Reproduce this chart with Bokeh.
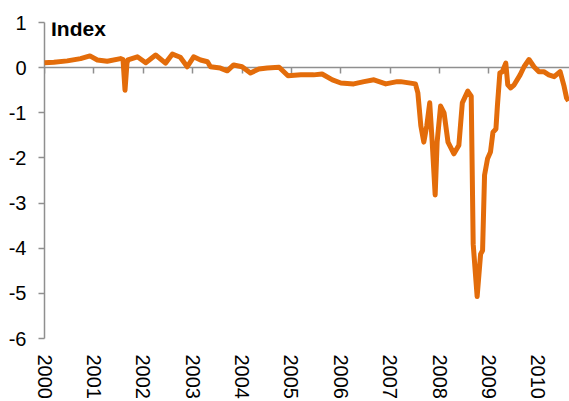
from bokeh.plotting import figure
from bokeh.models import Range1d, FixedTicker, LinearAxis, Label
from bokeh.embed import file_html
from bokeh.resources import INLINE

# Data (decimal years, index values)
years = [2000.00, 2000.19, 2000.46, 2000.73, 2000.92, 2001.07, 2001.27, 2001.54,
         2001.59, 2001.63, 2001.67, 2001.69, 2001.88, 2002.05, 2002.25, 2002.45,
         2002.59, 2002.75, 2002.89, 2003.02, 2003.16, 2003.30, 2003.36, 2003.56,
         2003.70, 2003.83, 2004.00, 2004.17, 2004.34, 2004.51, 2004.75, 2004.93,
         2005.19, 2005.45, 2005.62, 2005.83, 2006.00, 2006.26, 2006.47, 2006.67,
         2006.91, 2007.14, 2007.21, 2007.51, 2007.56, 2007.62, 2007.68, 2007.74,
         2007.80, 2007.85, 2007.91, 2007.95, 2008.02, 2008.09, 2008.17, 2008.29,
         2008.39, 2008.46, 2008.57, 2008.64, 2008.68, 2008.76, 2008.83, 2008.87,
         2008.91, 2008.97, 2009.03, 2009.08, 2009.14, 2009.17, 2009.22, 2009.27,
         2009.34, 2009.38, 2009.44, 2009.51, 2009.63, 2009.71, 2009.81, 2009.91,
         2010.01, 2010.11, 2010.21, 2010.32, 2010.44, 2010.52, 2010.57, 2010.61]
values = [0.11, 0.12, 0.15, 0.20, 0.26, 0.17, 0.14, 0.20,
          0.18, -0.50, 0.10, 0.17, 0.24, 0.11, 0.28, 0.10,
          0.30, 0.23, 0.02, 0.24, 0.17, 0.13, 0.02, -0.01,
          -0.07, 0.06, 0.02, -0.12, -0.03, -0.01, 0.01, -0.18,
          -0.16, -0.16, -0.14, -0.27, -0.34, -0.36, -0.31, -0.27,
          -0.36, -0.31, -0.31, -0.36, -0.56, -1.29, -1.65, -1.29,
          -0.78, -1.65, -2.82, -1.65, -0.85, -1.00, -1.65, -1.91,
          -1.72, -0.78, -0.52, -0.63, -3.91, -5.07, -4.13, -4.05,
          -2.38, -2.02, -1.87, -1.43, -1.36, -0.85, -0.12, -0.09,
          0.10, -0.38, -0.45, -0.38, -0.16, 0.02, 0.18, 0.02,
          -0.09, -0.09, -0.16, -0.20, -0.09, -0.41, -0.67, -0.74]

year_ticks = list(range(2000, 2011))
y_ticks = [-6, -5, -4, -3, -2, -1, 0, 1]
title_text = "Index"

FONT = "Liberation Sans"
GREY = "#8f8f8f"

p = figure(width=569, height=401, output_backend="svg", toolbar_location=None,
           x_range=Range1d(2000, 2010.63), y_range=Range1d(-6, 1),
           min_border_left=44, min_border_top=22, min_border_bottom=58,
           min_border_right=0, x_axis_location=None, y_axis_location=None)
p.outline_line_color = None
p.xgrid.visible = False
p.ygrid.visible = False
p.background_fill_color = "white"
p.border_fill_color = "white"

# Y axis
yax = LinearAxis(ticker=FixedTicker(ticks=y_ticks))
yax.axis_line_color = GREY
yax.axis_line_width = 1.5
yax.major_tick_line_color = GREY
yax.major_tick_line_width = 1.5
yax.major_tick_out = 6
yax.major_tick_in = 0
yax.minor_tick_line_color = None
yax.major_label_standoff = 12
yax.major_label_text_font = FONT
yax.major_label_text_font_size = "20px"
yax.major_label_text_color = "black"
yax.major_label_overrides = {t: str(t) for t in y_ticks}
p.add_layout(yax, "left")

# X axis labels at the bottom
xax = LinearAxis(ticker=FixedTicker(ticks=year_ticks))
xax.axis_line_color = None
xax.major_tick_line_color = None
xax.minor_tick_line_color = None
xax.major_tick_out = 0
xax.major_tick_in = 0
xax.major_label_orientation = "vertical"
xax.major_label_standoff = 16
xax.major_label_text_font = FONT
xax.major_label_text_font_size = "20px"
xax.major_label_text_color = "black"
xax.major_label_overrides = {y: str(y) for y in year_ticks}
p.add_layout(xax, "below")

# Zero line axis with ticks
zax = LinearAxis(ticker=FixedTicker(ticks=year_ticks), fixed_location=0)
zax.axis_line_color = GREY
zax.axis_line_width = 1.5
zax.major_tick_line_color = GREY
zax.major_tick_line_width = 1.5
zax.major_tick_out = 6
zax.major_tick_in = 0
zax.minor_tick_line_color = None
zax.major_label_text_font_size = "0px"
zax.major_label_text_alpha = 0
p.add_layout(zax, "below")

r = p.line(years, values, line_color="#E36C0A", line_width=5, line_join="round")
r.level = "overlay"

p.add_layout(Label(x=2000, y=1, x_offset=6.5, y_offset=-6, text=title_text,
                   text_font=FONT, text_font_size="21px", text_font_style="bold",
                   text_color="black", text_baseline="alphabetic"))

open("out.html", "w").write(file_html(p, INLINE))
